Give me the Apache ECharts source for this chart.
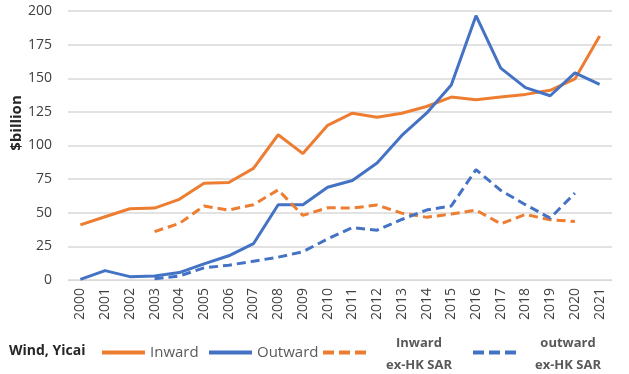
<!DOCTYPE html>
<html><head><meta charset="utf-8">
<script src="https://cdn.jsdelivr.net/npm/echarts@6/dist/echarts.min.js"></script>
<style>html,body{margin:0;padding:0;background:#fff}#c{width:629px;height:374px}</style>
</head><body><div id="c"></div>
<script>
const years = ['2000','2001','2002','2003','2004','2005','2006','2007','2008','2009','2010','2011','2012','2013','2014','2015','2016','2017','2018','2019','2020','2021'];
const inward = [41,47,53,53.5,60,72,72.5,83,108,94,115,124,121,124,129,136,134,136,138,141,149.5,181.5];
const outward = [0.5,7,2.5,3,5.5,12,18,27,56,56,69,74,87,107.5,124,145,196.5,157.5,143,137,154,145.5];
const inwardExHK = [null,null,null,36,42,55,52,56,67,48,53.7,53.5,55.7,49.7,46.7,49,52,41.8,48.7,44.8,43.5,null];
const outwardExHK = [null,null,null,1,3,9,11,14,17,21,30.6,39,37,45,52,55,82,66.6,56,46,64.6,null];
const yTicks = [0,25,50,75,100,125,150,175,200];
const seriesNames = ['Inward','Outward','Inward ex-HK SAR','outward ex-HK SAR'];

const ORANGE = '#ED7D31', BLUE = '#4472C4';
const FONT = '"Open Sans", "Noto Sans", sans-serif';
const chart = echarts.init(document.getElementById('c'));
function mkLegend(name, left, showText, dashed){
  return {
    data:[name], left:left, top:340, itemWidth:43, itemHeight:14, itemGap:5,
    itemStyle:{opacity:0},
    lineStyle:{width:4, type: dashed ? [11,5] : 'solid'},
    formatter: showText ? '{name}' : ' ',
    textStyle:{fontFamily:FONT, fontSize:15, color:'#595959'}
  };
}
chart.setOption({
  animation:false,
  grid:{left:68, right:17, top:11, bottom:94, containLabel:false},
  xAxis:{type:'category', data:years, boundaryGap:true,
    axisLine:{show:true, lineStyle:{color:'#d9d9d9', width:1}}, axisTick:{show:false},
    axisLabel:{rotate:90, interval:0, fontFamily:FONT, fontSize:14, color:'#404040', margin:8}},
  yAxis:{type:'value', min:yTicks[0], max:yTicks[yTicks.length-1], interval:25,
    axisLine:{show:false}, axisTick:{show:false},
    splitLine:{lineStyle:{color:'#d9d9d9', width:1.5}},
    axisLabel:{fontFamily:FONT, fontSize:14, color:'#404040', margin:16}},
  legend:[
    mkLegend(seriesNames[0], 95, true, false),
    mkLegend(seriesNames[1], 202, true, false),
    mkLegend(seriesNames[2], 316, false, true),
    mkLegend(seriesNames[3], 466, false, true)
  ],
  graphic:[
    {type:'text', left:9, top:344, style:{text:'Wind, Yicai', font:'bold 14px '+FONT, fill:'#262626'}},
    {type:'text', x:17, y:123, rotation:Math.PI/2, style:{text:'$billion', font:'bold 15px '+FONT, fill:'#262626', align:'center', verticalAlign:'middle'}},
    {type:'text', x:419, y:343, style:{text:'Inward', font:'bold 13px '+FONT, fill:'#595959', align:'center', verticalAlign:'middle'}},
    {type:'text', x:419, y:365, style:{text:'ex-HK SAR', font:'bold 13px '+FONT, fill:'#595959', align:'center', verticalAlign:'middle'}},
    {type:'text', x:568, y:343, style:{text:'outward', font:'bold 13px '+FONT, fill:'#595959', align:'center', verticalAlign:'middle'}},
    {type:'text', x:568, y:365, style:{text:'ex-HK SAR', font:'bold 13px '+FONT, fill:'#595959', align:'center', verticalAlign:'middle'}}
  ],
  series:[
    {name:seriesNames[0], type:'line', data:inward, symbol:'none', lineStyle:{color:ORANGE, width:3}, itemStyle:{color:ORANGE}},
    {name:seriesNames[1], type:'line', data:outward, symbol:'none', lineStyle:{color:BLUE, width:3}, itemStyle:{color:BLUE}},
    {name:seriesNames[2], type:'line', data:inwardExHK, symbol:'none', lineStyle:{color:ORANGE, width:3, type:[9,5]}, itemStyle:{color:ORANGE}},
    {name:seriesNames[3], type:'line', data:outwardExHK, symbol:'none', lineStyle:{color:BLUE, width:3, type:[9,5]}, itemStyle:{color:BLUE}}
  ]
});
</script></body></html>
